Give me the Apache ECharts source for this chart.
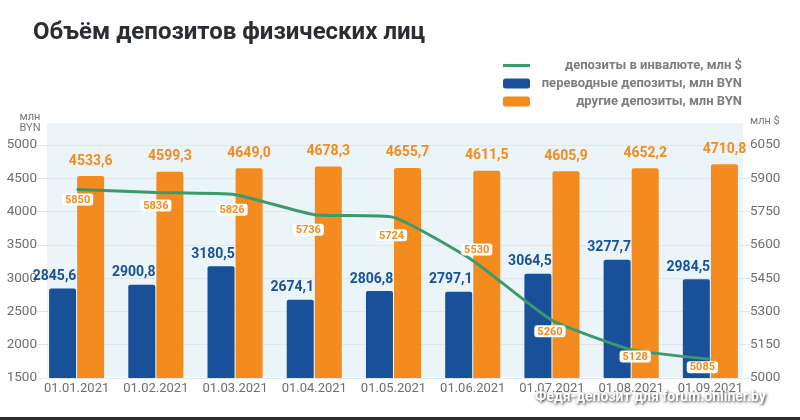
<!DOCTYPE html>
<html>
<head>
<meta charset="utf-8">
<script src="https://cdn.jsdelivr.net/npm/echarts@6/dist/echarts.min.js"></script>
<style>
  html, body { margin: 0; padding: 0; background: #fff; }
  #chart { width: 800px; height: 420px; }
</style>
</head>
<body>
<div id="chart"></div>
<script>
// данные с графика
const categories = ['01.01.2021', '01.02.2021', '01.03.2021', '01.04.2021', '01.05.2021',
  '01.06.2021', '01.07.2021', '01.08.2021', '01.09.2021'];
const transferDeposits = [2845.6, 2900.8, 3180.5, 2674.1, 2806.8, 2797.1, 3064.5, 3277.7, 2984.5];  // переводные, млн BYN
const otherDeposits = [4533.6, 4599.3, 4649.0, 4678.3, 4655.7, 4611.5, 4605.9, 4652.2, 4710.8];     // другие, млн BYN
const fxDeposits = [5850, 5836, 5826, 5736, 5724, 5530, 5260, 5128, 5085];                           // в инвалюте, млн $

// смещения подписей на линии (только оформление)
const fxLabelOffsets = [[1, -1], [0, 2], [-3, 4], [-6, 4], [-2, 7], [4, 0], [-2, 0], [4, -4], [-8, -3]];
const fxLabelPos = ['bottom', 'bottom', 'bottom', 'bottom', 'bottom', 'top', 'bottom', 'bottom', 'bottom'];

const names = {
  fx: 'депозиты в инвалюте, млн $',
  transfer: 'переводные депозиты, млн BYN',
  other: 'другие депозиты, млн BYN'
};

const BLUE = '#19509a';
const ORANGE = '#f38b1f';
const GREEN = '#3a9a6b';
const FONT = 'Roboto';
const fmt = v => v.toFixed(1).replace('.', ',');

const chart = echarts.init(document.getElementById('chart'));

chart.setOption({
  textStyle: { fontFamily: FONT },
  title: {
    text: 'Объём депозитов физических лиц',
    left: 28,
    top: 16,
    textStyle: { fontSize: 24, fontWeight: 'bold', color: '#2a2e33', fontFamily: FONT }
  },
  legend: {
    orient: 'vertical',
    right: 53,
    top: 54,
    itemWidth: 27,
    itemHeight: 10,
    itemGap: 5,
    selectedMode: false,
    data: [
      { name: names.fx, itemStyle: { opacity: 0 }, lineStyle: { width: 3 } },
      { name: names.transfer, icon: 'roundRect' },
      { name: names.other, icon: 'roundRect' }
    ],
    formatter: name => '{a|' + name + '}',
    textStyle: {
      rich: {
        a: { width: 207, align: 'right', fontSize: 13, lineHeight: 16, fontWeight: 'bold', color: '#7d7d7d', fontFamily: FONT }
      }
    }
  },
  graphic: [
    {
      type: 'rect',
      z: -10,
      silent: true,
      shape: { x: 47, y: 123, width: 696, height: 254 },
      style: { fill: '#eaf4f9' }
    },
    {
      type: 'rect',
      silent: true,
      shape: { x: 0, y: 417, width: 800, height: 3 },
      style: { fill: '#2c2c2c' }
    },
    {
      type: 'text',
      silent: true,
      z: 100,
      x: 535,
      y: 397,
      style: {
        text: 'Федя-депозит для forum.onliner.by',
        fill: '#ffffff',
        font: 'bold 14px Roboto',
        verticalAlign: 'middle',
        textShadowColor: 'rgba(0,0,0,0.85)',
        textShadowBlur: 3,
        textShadowOffsetX: 1,
        textShadowOffsetY: 1
      }
    }
  ],
  grid: { left: 37, right: 50, top: 145, bottom: 42 },
  xAxis: {
    type: 'category',
    data: categories,
    axisLine: { show: false },
    axisTick: { show: false },
    axisLabel: { color: '#6e6e6e', fontSize: 13, margin: 4, interval: 0 }
  },
  yAxis: [
    {
      type: 'value',
      min: 1500,
      max: 5000,
      interval: 500,
      name: 'млн\nBYN',
      nameLocation: 'end',
      nameGap: 11,
      nameTextStyle: { color: '#777', fontSize: 11, lineHeight: 11, align: 'center', padding: [0, 14, 0, 0] },
      axisLine: { show: false },
      axisTick: { show: false },
      axisLabel: { color: '#6e6e6e', fontSize: 13.5, margin: 0, formatter: v => String(v) },
      splitLine: { lineStyle: { color: '#dce7ee', width: 1 } }
    },
    {
      type: 'value',
      min: 5000,
      max: 6050,
      interval: 150,
      name: 'млн $',
      nameLocation: 'end',
      nameGap: 18,
      nameTextStyle: { color: '#777', fontSize: 11, align: 'left' },
      axisLine: { show: false },
      axisTick: { show: false },
      axisLabel: { color: '#6e6e6e', fontSize: 13.5, margin: 0, formatter: v => String(v) },
      splitLine: { show: false }
    }
  ],
  series: [
    {
      name: names.transfer,
      type: 'bar',
      barWidth: 27,
      barGap: '4%',
      data: transferDeposits,
      itemStyle: { color: BLUE, borderRadius: [2, 2, 0, 0] },
      label: {
        show: true,
        position: 'top',
        distance: 5,
        offset: [-8, 0],
        color: BLUE,
        fontSize: 14,
        fontWeight: 'bold',
        formatter: p => fmt(p.value)
      }
    },
    {
      name: names.other,
      type: 'bar',
      barWidth: 27,
      data: otherDeposits,
      itemStyle: { color: ORANGE, borderRadius: [2, 2, 0, 0] },
      label: {
        show: true,
        position: 'top',
        distance: 8,
        color: ORANGE,
        fontSize: 14,
        fontWeight: 'bold',
        formatter: p => fmt(p.value)
      }
    },
    {
      name: names.fx,
      type: 'line',
      yAxisIndex: 1,
      smooth: 0.15,
      symbol: 'circle',
      symbolSize: 0,
      z: 5,
      lineStyle: { color: GREEN, width: 3 },
      itemStyle: { color: GREEN },
      data: fxDeposits.map((v, i) => ({
        value: v,
        label: { position: fxLabelPos[i], offset: fxLabelOffsets[i] }
      })),
      label: {
        show: true,
        distance: 5,
        color: ORANGE,
        fontSize: 11,
        fontWeight: 'bold',
        backgroundColor: '#ffffff',
        borderRadius: 3,
        padding: [1, 3, 0, 3]
      }
    }
  ]
});
</script>
</body>
</html>
